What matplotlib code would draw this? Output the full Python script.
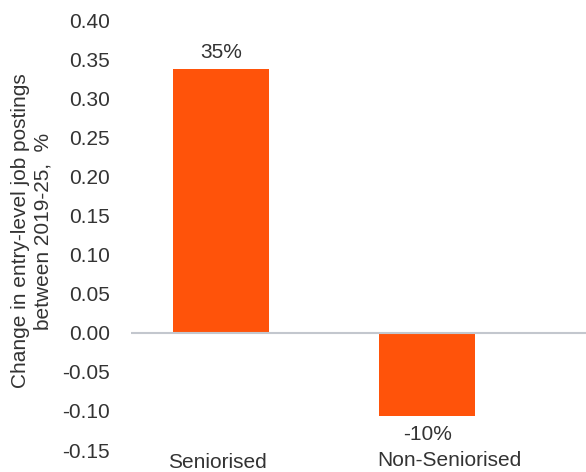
import matplotlib.pyplot as plt
import matplotlib as mpl
import matplotlib.transforms as mtransforms

mpl.rcParams.update({
    'font.family': ['Liberation Sans', 'DejaVu Sans'],
    'font.size': 15,
    'text.color': '#333333',
})

# Data
categories = ['Seniorised', 'Non-Seniorised']
values = [0.337, -0.106]
value_labels = ['35%', '-10%']
y_ticks = [-0.15, -0.10, -0.05, 0.00, 0.05, 0.10, 0.15, 0.20, 0.25, 0.30, 0.35, 0.40]

bar_color = '#FF530A'
fs = 15

fig = plt.figure(figsize=(5.86, 4.72), dpi=100)
ax = fig.add_axes([131 / 586, 22 / 472, 455 / 586, 430 / 472])

x = list(range(len(categories)))
ax.bar(x, values, width=0.466, color=bar_color, zorder=2)
ax.axhline(0, color='#C3C7CE', linewidth=1.5, zorder=3)

ax.set_xlim(-0.437, 1.77)
ax.set_ylim(-0.15, 0.40)
ax.set_yticks(y_ticks)
ax.set_yticklabels([f'{t:.2f}' for t in y_ticks], fontsize=fs, color='#333333')
ax.tick_params(axis='y', length=0, pad=15)
ax.set_yticks([0.0], minor=True)
ax.tick_params(axis='y', which='minor', direction='in', length=14, width=1.5, color='#A8ACB2')
ax.set_xticks([])
for s in ax.spines.values():
    s.set_visible(False)

# value labels
for xi, v, lab in zip(x, values, value_labels):
    if v >= 0:
        ax.annotate(lab, (xi, v), xytext=(0, 5), textcoords='offset points',
                    ha='center', va='bottom', fontsize=fs)
    else:
        ax.annotate(lab, (xi, v), xytext=(0, -7), textcoords='offset points',
                    ha='center', va='top', fontsize=fs)

# category labels
trans = mtransforms.blended_transform_factory(ax.transData, fig.transFigure)
ax.text(-0.02, 10 / 472, categories[0], transform=trans, ha='center', va='center', fontsize=fs)
ax.text(1.107, 11 / 472, categories[1], transform=trans, ha='center', va='center', fontsize=fs)

fig.text(32 / 586, 241 / 472, 'Change in entry-level job postings\nbetween 2019-25,  %',
         rotation=90, ha='center', va='center', fontsize=fs, linespacing=1.2)

plt.savefig('out.png', dpi=100)
plt.close()
